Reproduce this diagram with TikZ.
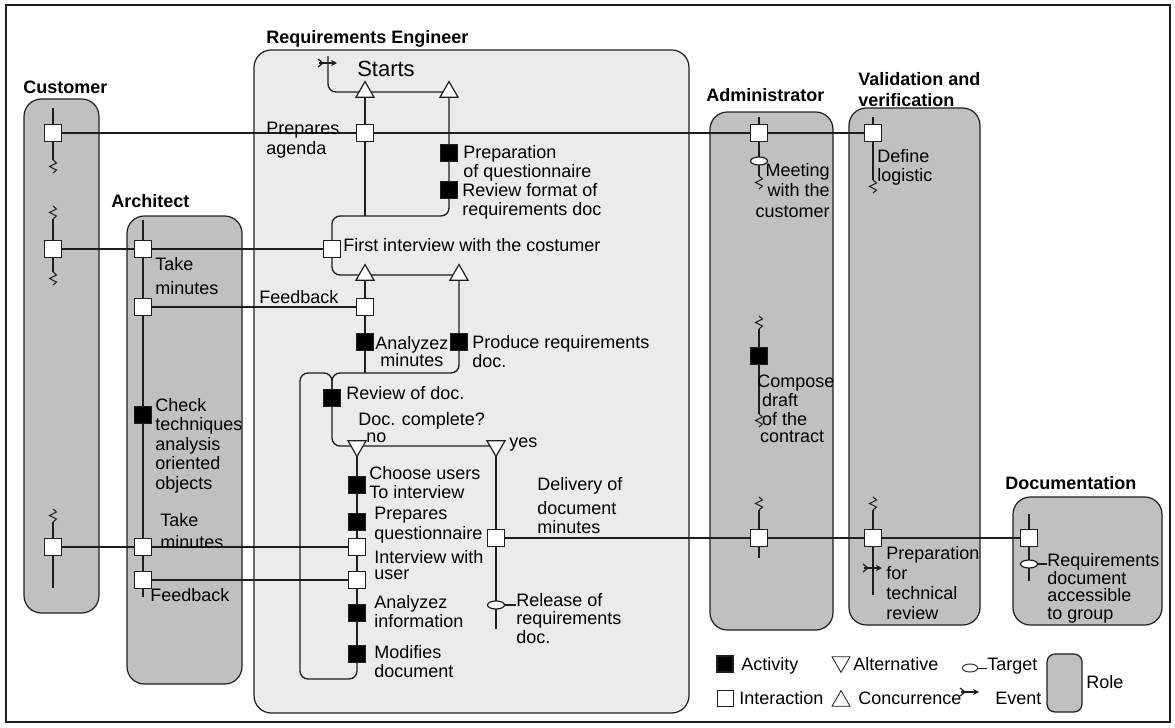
\documentclass[tikz,border=0pt]{standalone}
\usepackage{fontspec}
\setmainfont{Liberation Sans}
\usetikzlibrary{shapes.geometric,arrows.meta}
\definecolor{rolegray}{HTML}{C0C0C0}
\definecolor{relight}{HTML}{EBEBEB}
\definecolor{ink}{HTML}{1E1E1E}
\pgfdeclarelayer{roles}
\pgfdeclarelayer{lines}
\pgfsetlayers{roles,lines,main}
\tikzset{
  conn/.style={line width=1pt, draw=ink},
  role/.style={draw=ink, line width=0.9pt, fill=rolegray, rounded corners=13pt},
  rolelabel/.style={font=\fontsize{13.5}{15.75}\selectfont\bfseries, inner sep=0, anchor=base west},
  txt/.style={font=\fontsize{13.5}{14.6}\selectfont, inner sep=0, align=left, anchor=north west},
  lbl/.style={font=\fontsize{13.5}{14.6}\selectfont, inner sep=0, anchor=base west},
  inter/.style={draw=ink, fill=white, line width=0.9pt, minimum size=12.75pt, inner sep=0},
  act/.style={draw=ink, fill=black, line width=0.9pt, minimum size=12.75pt, inner sep=0},
  conc/.style={regular polygon, regular polygon sides=3, draw=ink, fill=white, line width=0.9pt, minimum size=15.6pt, inner sep=0},
  alt/.style={conc, shape border rotate=180},
  target/.style={ellipse, draw=ink, fill=white, line width=0.9pt, minimum width=12.75pt, minimum height=6pt, inner sep=0},
  zz/.pic={\draw[line width=0.8pt, ink] (0,0) -- (3.5,3) -- (-3.5,6.5) -- (3.5,10) -- (0,13);},
  evt/.pic={\draw[line width=0.9pt, ink, -{Stealth[length=4.5pt,width=4.5pt]}] (-9,0) -- (9,0);
            \draw[line width=0.9pt, ink] (-10,-4) -- (-5,0) -- (-10,4);},
}
\begin{document}
\begin{tikzpicture}[x=0.75pt,y=-0.75pt]
\useasboundingbox (0,0) rectangle (1175,728);
\draw[line width=1.6pt, ink] (6,5) rectangle (1170,722);

% ---------- roles ----------
\begin{pgfonlayer}{roles}
\draw[role] (24,99) rectangle (99,613);
\draw[role] (127,216) rectangle (242,684);
\draw[role, fill=relight] (254,50) rectangle (689,713);
\draw[role] (710,112) rectangle (833,630);
\draw[role] (849,108) rectangle (980,625);
\draw[role] (1013,497) rectangle (1162,625);
\draw[role, rounded corners=6pt] (1047,654) rectangle (1082,712);
\end{pgfonlayer}

\node[rolelabel] (lCust) at (23,93) {Customer};
\node[rolelabel] (lRE) at (266,43) {Requirements Engineer};
\node[rolelabel] (lArch) at (111,207) {Architect};
\node[rolelabel] (lAdm) at (706,101) {Administrator};
\node[rolelabel, anchor=north west, align=left] (lVV) at (858,72) {Validation and\\verification};
\node[rolelabel] (lDoc) at (1005,489) {Documentation};

% ---------- free ends ----------
\coordinate (cu0) at (53,108); \coordinate (cu1) at (53,160);
\coordinate (cu2) at (53,219); \coordinate (cu3) at (53,272);
\coordinate (cu4) at (53,522); \coordinate (cu5) at (53,588);
\coordinate (ar0) at (143,220); \coordinate (ar1) at (143,597);
\coordinate (ad0) at (759,117); \coordinate (ad1) at (759,176);
\coordinate (ad2) at (759,329); \coordinate (ad3) at (759,414);
\coordinate (ad4) at (759,510); \coordinate (ad5) at (759,558);
\coordinate (vv0) at (873,117); \coordinate (vv1) at (873,180);
\coordinate (vv2) at (873,510); \coordinate (vv3) at (873,595);
\coordinate (dc0) at (1029,514); \coordinate (dc1) at (1029,581);
\coordinate (ev1) at (328,63); \coordinate (evTop) at (328,56);
\coordinate (J1) at (365,216); \coordinate (J2) at (365,373);
\coordinate (LB) at (300,679); \coordinate (yesEnd) at (496,629);
\coordinate (ev2) at (873,568);

% ---------- customer ----------
\node[inter] (C1) at (53,133) {};
\node[inter] (C2) at (53,249) {};
\node[inter] (C3) at (53,547) {};

% ---------- architect ----------
\node[inter] (A1) at (143,249) {};
\node[inter] (A2) at (143,307) {};
\node[act]   (A3) at (143,415) {};
\node[inter] (A4) at (143,547) {};
\node[inter] (A5) at (143,580) {};

% ---------- requirements engineer ----------
\node[conc]  (T1) at (365,92) {};
\node[conc]  (T2) at (449,92) {};
\node[inter] (PA) at (365,133) {};
\node[act]   (PQ1) at (449,153) {};
\node[act]   (RF) at (449,190) {};
\node[inter] (FI) at (332,249) {};
\node[conc]  (T3) at (365,275) {};
\node[conc]  (T4) at (459,275) {};
\node[inter] (FB) at (365,307) {};
\node[act]   (AM) at (365,342) {};
\node[act]   (PR) at (459,342) {};
\node[act]   (RD) at (332,398) {};
\node[alt]   (AL1) at (357,446) {};
\node[alt]   (AL2) at (496,446) {};
\node[act]   (CU) at (357,485) {};
\node[act]   (PQ) at (357,522) {};
\node[inter] (IU) at (357,547) {};
\node[inter] (IU2) at (357,580) {};
\node[act]   (AI) at (357,613) {};
\node[act]   (MD) at (357,654) {};
\node[inter] (DD) at (496,538) {};
\node[target] (RL) at (496,605) {};

% ---------- administrator ----------
\node[inter] (AD1) at (759,133) {};
\node[target] (TM) at (759,161) {};
\node[act]   (CD) at (759,356) {};
\node[inter] (AD2) at (759,538) {};

% ---------- validation ----------
\node[inter] (VV1) at (873,133) {};
\node[inter] (VV2) at (873,538) {};

% ---------- documentation ----------
\node[inter] (DC) at (1029,538) {};
\node[target] (TD) at (1029,564) {};

% ---------- texts ----------
\node[lbl, font=\fontsize{16.5}{18}\selectfont] (tStart) at (357,76) {Starts};
\node[txt] (tPA) at (266,122) {Prepares\\agenda};
\node[txt] (tPQ1) at (463,145) {Preparation\\of questionnaire};
\node[txt] (tRF) at (462,183) {Review format of\\requirements doc};
\node[lbl] (tFI) at (343,251) {First interview with the costumer};
\node[lbl] (tFB) at (259,303) {Feedback};
\node[txt, align=center] (tAM) at (375,336) {Analyzez\\[-1.8pt]minutes};
\node[txt] (tPR) at (472,335) {Produce requirements\\doc.};
\node[lbl] (tRD) at (346,399) {Review of doc.};
\node[lbl] (tDC) at (358,425) {Doc. complete?};
\node[lbl] (tNo) at (366,442) {no};
\node[lbl] (tYes) at (509,447) {yes};
\node[txt] (tCU) at (369,466) {Choose users\\To interview};
\node[txt] (tPQ) at (374,507) {Prepares\\questionnaire};
\node[txt] (tIU) at (374,550) {Interview with\\[-2.2pt]user};
\node[txt] (tAI) at (374,595) {Analyzez\\information};
\node[txt] (tMD) at (374,645) {Modifies\\document};
\node[txt] (tDD) at (537,477) {Delivery of\\[3.3pt]document\\minutes};
\node[txt, font=\fontsize{13.5}{13.9}\selectfont] (tRL) at (516,593) {Release of\\requirements\\doc.};
\node[txt] (tA1) at (155,257) {Take\\[3.4pt]minutes};
\node[txt] (tA3) at (155,398) {Check\\techniques\\analysis\\oriented\\objects};
\node[txt] (tA4) at (160,513) {Take\\[1.9pt]minutes};
\node[lbl] (tA5) at (150,601) {Feedback};
\node[txt, align=right, anchor=north east, font=\fontsize{13.5}{15.4}\selectfont] (tTM) at (830,163) {Meeting\\with the\\customer};
\node[txt, font=\fontsize{13.5}{14}\selectfont] (tCD) at (757,375) {Compose\\\hspace*{3.6pt}draft\\\hspace*{3.6pt}of the\\[-1.2pt]\hspace*{2.2pt}contract};
\node[txt] (tDL) at (877,149) {Define\\logistic};
\node[txt, font=\fontsize{13.5}{15}\selectfont] (tVV2) at (886,546) {Preparation\\for\\technical\\review};
\node[txt, font=\fontsize{13.5}{13.3}\selectfont] (tDoc) at (1047,553) {Requirements\\document\\accessible\\to group};

% ---------- legend ----------
\node[act, minimum size=12pt] (lgAct) at (725,664) {};
\node[lbl] (lgActT) at (741,670) {Activity};
\node[inter, minimum size=12pt, line width=0.7pt] (lgInt) at (725,698) {};
\node[lbl] (lgIntT) at (739,704) {Interaction};
\node[alt, line width=0.6pt] (lgAlt) at (841,662) {};
\node[lbl] (lgAltT) at (853,670) {Alternative};
\node[conc, line width=0.6pt] (lgCon) at (841,701) {};
\node[lbl] (lgConT) at (858,704) {Concurrence};
\node[target, line width=0.7pt, minimum width=11.5pt] (lgTar) at (970,668) {};
\node[lbl] (lgTarT) at (987,670) {Target};
\coordinate (lgEv) at (970,692);
\node[lbl] (lgEvT) at (995,704) {Event};
\node[lbl] (lgRoleT) at (1086,688) {Role};

% ---------- connectors ----------
\begin{pgfonlayer}{lines}
% lifelines
\draw[conn] (cu0) -- (C1.center) -- (cu1);
\draw[conn] (cu2) -- (C2.center) -- (cu3);
\draw[conn] (cu4) -- (C3.center) -- (cu5);
\draw[conn] (ar0) -- (A1.center) -- (A2.center) -- (A3.center) -- (A4.center) -- (A5.center) -- (ar1);
\draw[conn] (ad0) -- (AD1.center) -- (TM.center) -- (ad1);
\draw[conn] (ad2) -- (CD.center) -- (ad3);
\draw[conn] (ad4) -- (AD2.center) -- (ad5);
\draw[conn] (vv0) -- (VV1.center) -- (vv1);
\draw[conn] (vv2) -- (VV2.center) -- (ev2) -- (vv3);
\draw[conn] (dc0) -- (DC.center) -- (TD.center) -- (dc1);
\pic at (53,160) {zz}; \pic at (53,206) {zz};
\pic at (53,272) {zz}; \pic at (53,509) {zz};
\pic at (759,176) {zz}; \pic at (759,316) {zz};
\pic at (759,414) {zz}; \pic at (759,497) {zz};
\pic at (873,180) {zz}; \pic at (873,497) {zz};
% requirements engineer flow
\draw[conn, rounded corners=6pt] (evTop) -- (evTop |- T1.center) -- (T1.center) -- (T2.center);
\draw[conn] (T1.center) -- (PA.center) -- (J1);
\draw[conn, rounded corners=6pt] (T2.center) -- (PQ1.center) -- (RF.center) -- (RF.center |- J1) -- (FI.center |- J1) -- (FI.center);
\draw[conn, rounded corners=6pt] (FI.center) -- (FI.center |- T3.center) -- (T4.center);
\draw[conn] (T3.center) -- (FB.center) -- (AM.center) -- (J2);
\draw[conn, rounded corners=6pt] (T4.center) -- (PR.center) -- (PR.center |- J2) -- (RD.center |- J2) -- (RD.center);
\draw[conn, rounded corners=6pt] (MD.center) -- (MD.center |- LB) -- (LB) -- (LB |- J2) -- (RD.center |- J2) -- (RD.center);
\draw[conn, rounded corners=6pt] (RD.center) -- (RD.center |- AL1.center) -- (AL2.center);
\draw[conn] (AL1.center) -- (CU.center) -- (PQ.center) -- (IU.center) -- (IU2.center) -- (AI.center) -- (MD.center);
\draw[conn] (AL2.center) -- (DD.center) -- (RL.center) -- (yesEnd);
% interactions
\draw[conn] (C1.center) -- (PA.center) -- (AD1.center) -- (VV1.center);
\draw[conn] (C2.center) -- (A1.center) -- (FI.center);
\draw[conn] (A2.center) -- (FB.center);
\draw[conn] (C3.center) -- (A4.center) -- (IU.center);
\draw[conn] (A5.center) -- (IU2.center);
\draw[conn] (DD.center) -- (AD2.center) -- (VV2.center) -- (DC.center);
% target ticks
\draw[conn, line width=0.8pt] (RL.east) -- (RL.east -| tRL.west);
\draw[conn, line width=0.8pt] (TD.east) -- (TD.east -| tDoc.west);
\draw[conn, line width=0.7pt] (lgTar.east) -- (lgTar.east -| lgTarT.west);
\end{pgfonlayer}

% events
\pic at (ev1) {evt};
\pic at (ev2) {evt};
\pic at (lgEv) {evt};
\end{tikzpicture}
\end{document}
